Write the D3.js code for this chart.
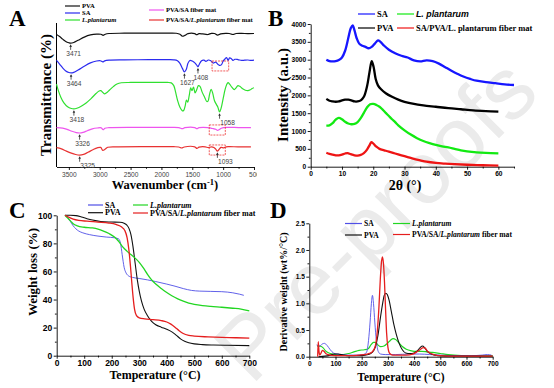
<!DOCTYPE html>
<html>
<head>
<meta charset="utf-8">
<script src="https://cdn.jsdelivr.net/npm/d3@7"></script>
<style>
  body { margin: 0; background: #fff; }
  svg { display: block; }
</style>
</head>
<body>
<svg id="fig" width="554" height="388"></svg>
<script>
// ---------- data ----------

// A: FTIR, [wavenumber cm-1, transmittance (offset, a.u.)]
var ftirTicks = [3500, 3000, 2500, 2000, 1500, 1000, 500];
var ftirNames = ["PVA", "SA", "L.plantarum", "PVA/SA fiber mat", "PVA/SA/L.plantarum fiber mat"];
var ftirPVA = [[3700,92.0],[3650,90.6],[3600,88.8],[3550,87.2],[3500,86.3],[3471,86.0],[3420,86.5],[3350,88.0],[3250,90.2],[3150,91.7],[3050,92.3],[2980,92.2],[2945,91.4],[2910,92.2],[2850,92.7],[2600,92.9],[2200,93.0],[1900,93.0],[1760,92.9],[1700,92.2],[1660,90.8],[1620,91.4],[1570,92.6],[1460,92.6],[1430,91.9],[1390,92.6],[1330,92.4],[1250,92.0],[1190,92.8],[1140,92.7],[1090,91.6],[1040,92.4],[960,92.8],[900,92.7],[840,92.0],[790,92.7],[700,92.8],[600,92.6],[500,92.7]];
var ftirSA = [[3700,74.0],[3650,71.5],[3600,68.8],[3550,66.7],[3500,65.6],[3464,65.3],[3420,65.7],[3350,67.3],[3250,70.0],[3150,72.3],[3050,73.6],[2990,73.8],[2950,73.0],[2920,73.7],[2850,74.2],[2600,74.4],[2200,74.5],[1900,74.5],[1800,74.4],[1740,73.8],[1700,72.0],[1660,68.5],[1627,66.0],[1600,67.5],[1570,72.0],[1540,74.0],[1500,73.6],[1450,72.0],[1420,70.2],[1408,69.6],[1390,71.0],[1350,73.8],[1310,74.2],[1280,73.4],[1240,74.3],[1200,73.8],[1160,72.2],[1120,72.8],[1090,71.5],[1060,70.6],[1030,70.9],[1000,73.5],[970,75.0],[945,76.0],[920,74.0],[895,75.8],[870,75.4],[840,74.0],[810,74.8],[760,74.6],[700,74.0],[650,74.2],[600,74.3],[550,74.0],[500,74.2]];
var ftirLP = [[3700,57.5],[3670,53.0],[3630,48.5],[3580,44.5],[3520,41.8],[3460,40.6],[3418,40.3],[3370,40.8],[3300,42.2],[3220,44.5],[3140,47.5],[3060,51.0],[3010,52.8],[2980,53.0],[2950,51.8],[2925,50.8],[2890,51.5],[2840,53.5],[2780,55.8],[2720,57.6],[2650,58.5],[2500,58.7],[2200,58.7],[1900,58.7],[1840,58.4],[1800,56.5],[1770,52.0],[1740,46.5],[1700,41.5],[1660,39.0],[1640,39.2],[1615,42.5],[1595,46.5],[1575,45.0],[1550,49.5],[1525,55.0],[1505,53.0],[1480,55.5],[1455,51.5],[1430,53.5],[1400,56.5],[1375,56.0],[1340,52.0],[1300,48.5],[1265,45.5],[1245,45.8],[1220,50.5],[1195,54.0],[1170,51.5],[1140,46.0],[1110,43.5],[1085,41.5],[1058,38.2],[1035,40.5],[1000,47.5],[970,53.5],[945,57.0],[920,58.6],[895,57.5],[860,55.5],[820,53.8],[790,55.0],[760,56.5],[730,56.0],[690,54.5],[640,53.3],[600,53.0],[560,53.6],[530,54.5],[500,55.0]];
var ftirFM = [[3700,27.3],[3600,27.0],[3520,26.0],[3450,24.8],[3380,23.9],[3326,23.6],[3270,24.0],[3200,25.2],[3120,26.5],[3040,27.1],[2975,27.2],[2945,25.9],[2915,26.9],[2850,27.3],[2400,27.5],[1900,27.5],[1720,27.4],[1660,26.6],[1620,27.3],[1460,27.4],[1425,26.6],[1390,27.3],[1250,27.4],[1200,27.0],[1160,26.6],[1120,26.2],[1090,25.4],[1060,26.1],[1030,26.9],[990,27.4],[900,27.5],[750,27.4],[550,27.4]];
var ftirFMLP = [[3700,13.4],[3620,12.6],[3540,11.0],[3460,9.6],[3390,8.7],[3325,8.3],[3260,8.8],[3190,10.2],[3110,12.0],[3040,13.3],[2985,13.6],[2950,11.6],[2915,12.3],[2870,13.7],[2700,14.0],[2200,14.1],[1800,14.1],[1720,13.9],[1670,13.2],[1630,13.9],[1460,14.0],[1425,12.9],[1390,13.8],[1290,14.0],[1240,13.5],[1190,14.0],[1150,13.6],[1120,12.4],[1093,11.0],[1070,12.0],[1035,13.6],[990,13.3],[950,14.0],[900,14.1],[760,14.0],[600,14.0],[550,14.0]];
var ftirPeaks = [[3471,86.0,"3471"],[3464,65.3,"3464"],[1627,66.0,"1627"],[1408,69.6,"1408"],[3418,40.3,"3418"],[1058,38.2,"1058"],[3326,23.6,"3326"],[3325,8.3,"3325"],[1093,11.0,"1093"]];
var ftirBoxes = [[1180,910,73.6,66.7],[1225,965,29.2,22.2],[1225,965,15.3,8.3]];

// B: XRD, [2theta, intensity]
var xrdTicksX = [0, 10, 20, 30, 40, 50, 60];
var xrdTicksY = [0, 500, 1000, 1500, 2000, 2500, 3000, 3500, 4000];
var xrdNames = ["SA", "L. plantarum", "PVA", "SA/PVA/L. plantarum fiber mat"];
var xrdSA = [[5,3000],[6,2960],[7,2950],[8,2960],[9,2990],[10,3060],[11,3250],[12,3600],[12.8,3880],[13.4,3960],[14,3820],[14.7,3600],[15.5,3450],[16.5,3390],[17.5,3360],[18.5,3320],[19.5,3360],[20.5,3450],[21.5,3540],[22.3,3500],[23.5,3390],[25,3280],[27,3180],[29,3110],[31,3060],[33,2980],[35,2950],[37,2980],[39,2960],[41,2890],[43,2790],[45,2690],[47,2600],[49,2520],[51,2460],[53,2410],[56,2370],[59,2340],[62,2310],[65,2290]];
var xrdPVA = [[5,1900],[6,1850],[7,1830],[8,1820],[9,1830],[10,1860],[11,1880],[12,1880],[13,1860],[14,1830],[15,1830],[16,1860],[17,1960],[18,2250],[18.8,2650],[19.5,2960],[20.1,2800],[20.8,2450],[21.5,2280],[22.5,2170],[24,2060],[26,1960],[28,1880],[30,1820],[33,1760],[36,1720],[40,1680],[44,1640],[48,1610],[52,1580],[56,1560],[60,1545]];
var xrdLP = [[5,1150],[6,1160],[7,1220],[8,1320],[9,1370],[10,1330],[11,1260],[12,1210],[13,1190],[14,1200],[15,1250],[16,1360],[17,1510],[18,1660],[19,1750],[20,1760],[21,1730],[22,1680],[23,1600],[24,1510],[25,1420],[26,1330],[27,1250],[28,1160],[30,1020],[32,900],[34,800],[36,720],[38,660],[40,610],[42,570],[44,540],[46,500],[48,460],[50,430],[53,400],[56,385],[60,375]];
var xrdFM = [[5,390],[6,360],[7,340],[8,320],[9,320],[10,340],[11,370],[11.8,380],[12.8,350],[14,320],[15,310],[16,330],[17,380],[18,480],[18.8,600],[19.4,690],[20,650],[21,560],[22,500],[23.5,460],[25,420],[27,370],[29,320],[31,270],[33,220],[35,180],[37,140],[40,105],[43,85],[46,70],[50,55],[55,40],[60,30]];

// C: TGA, [temperature C, weight %]
var tempTicks = [0, 100, 200, 300, 400, 500, 600, 700];
var tgaTicksY = [0, 20, 40, 60, 80, 100];
var thermNames = ["SA", "PVA", "L.plantarum", "PVA/SA/L.plantarum fiber mat"];
var tgaSA = [[30,100],[40,98.5],[50,95.5],[60,92.5],[70,90.3],[80,88.8],[95,87.5],[120,86.2],[150,85.2],[180,84.5],[210,84.0],[225,83.2],[232,80],[238,72],[245,63],[252,59],[260,57],[275,55.8],[300,55],[330,54],[360,52.8],[400,51],[430,49.5],[460,47.8],[490,46.5],[520,46],[560,45.8],[600,45.6],[640,44.8],[665,43.8],[680,43]];
var tgaPVA = [[30,100],[50,100],[70,99.8],[90,98.8],[110,97.6],[130,96.6],[160,95.6],[200,95.2],[230,95],[245,94.3],[255,93],[263,90.5],[270,86],[277,78],[285,66],[293,54],[300,46],[308,39],[318,33],[330,28.5],[345,24.5],[360,22],[380,20.3],[400,18.8],[420,16.8],[435,14.5],[450,12],[465,10.3],[480,9.2],[500,8.4],[530,7.9],[570,7.6],[620,7.4],[700,7.2]];
var tgaLP = [[30,100],[40,98],[50,96],[60,94],[75,92.5],[100,91.5],[130,91],[150,90.2],[170,88.8],[190,87],[210,84.5],[225,81.5],[240,77.5],[255,74.5],[270,72],[285,69.5],[300,66.5],[315,62.5],[330,58],[345,54],[360,51],[380,47.8],[400,45],[420,42.5],[440,40.5],[460,38.8],[480,37.5],[500,36.6],[530,35.7],[560,35.1],[600,34.5],[640,33.8],[670,33.2],[700,32]];
var tgaFM = [[30,100],[45,98.5],[60,97.3],[80,96.4],[110,95.8],[150,95.2],[190,94.5],[215,93.5],[235,91.8],[248,89],[256,84],[262,76],[268,64],[273,52],[278,41],[283,33],[290,28.5],[300,27],[320,26.3],[350,25.7],[380,25],[400,24],[415,22.5],[430,20.3],[445,17.8],[460,15.8],[480,14.5],[500,14],[550,13.4],[600,13],[650,12.8],[700,12.5]];

// D: DTG, [temperature C, derivative weight %/C]
var dtgTicksY = [0, 0.5, 1.0, 1.5, 2.0, 2.5];
var dtgSA = [[28,0.22],[40,0.2],[50,0.24],[58,0.25],[68,0.21],[80,0.13],[92,0.07],[105,0.05],[125,0.04],[150,0.03],[180,0.03],[205,0.04],[218,0.08],[226,0.3],[232,0.65],[237,1.0],[241,1.15],[245,1.0],[250,0.65],[256,0.3],[263,0.1],[272,0.05],[290,0.04],[330,0.04],[380,0.05],[420,0.05],[460,0.04],[500,0.03],[560,0.02],[620,0.02],[660,0.03],[680,0.04],[695,0.03]];
var dtgPVA = [[35,0.0],[60,0.01],[80,0.03],[95,0.05],[110,0.05],[130,0.03],[160,0.02],[200,0.02],[225,0.04],[240,0.08],[252,0.18],[262,0.4],[272,0.75],[280,1.0],[286,1.15],[292,1.19],[298,1.16],[305,1.05],[313,0.85],[322,0.62],[332,0.42],[343,0.25],[355,0.13],[368,0.07],[385,0.06],[400,0.07],[412,0.11],[423,0.17],[432,0.2],[440,0.17],[450,0.1],[465,0.05],[490,0.02],[550,0.01],[640,0.01],[700,0.01]];
var dtgLP = [[30,0.2],[42,0.2],[52,0.17],[62,0.11],[75,0.07],[90,0.05],[110,0.03],[130,0.04],[150,0.06],[170,0.09],[190,0.12],[210,0.13],[225,0.15],[235,0.22],[245,0.27],[253,0.27],[262,0.22],[272,0.19],[285,0.2],[298,0.25],[310,0.31],[320,0.34],[330,0.32],[342,0.26],[355,0.19],[370,0.14],[390,0.11],[410,0.1],[430,0.1],[450,0.09],[470,0.08],[500,0.06],[530,0.04],[580,0.02],[640,0.01],[700,0.01]];
var dtgFM = [[32,0.0],[34,0.28],[37,0.1],[40,0.03],[45,0.07],[50,0.12],[56,0.1],[65,0.05],[80,0.03],[110,0.02],[150,0.02],[190,0.03],[220,0.05],[240,0.09],[252,0.2],[260,0.5],[266,0.95],[271,1.45],[275,1.75],[279,1.87],[283,1.75],[287,1.4],[291,0.9],[295,0.45],[300,0.18],[307,0.06],[318,0.03],[340,0.03],[370,0.03],[395,0.05],[410,0.09],[425,0.14],[435,0.17],[442,0.16],[450,0.11],[460,0.07],[475,0.04],[500,0.02],[560,0.01],[620,0.01],[700,0.01]];

// ---------- drawing ----------
var SERIF = '"Liberation Serif", "Times New Roman", serif';
var SANS = '"Liberation Sans", Arial, sans-serif';

var svg = d3.select("#fig");
svg.append("rect").attr("width", 554).attr("height", 388).attr("fill", "#fff");

// watermark
svg.append("text")
  .attr("transform", "translate(378,222) rotate(-45)")
  .attr("text-anchor", "middle").attr("dy", "0.3em")
  .attr("font-family", SANS).attr("font-size", 88)
  .attr("fill", "#ebebeb")
  .text("Pre-proofs");

function mids(t) {
  var m = [];
  for (var i = 0; i < t.length - 1; i++) m.push((t[i] + t[i + 1]) / 2);
  return m;
}

function rich(t, s, italic) {
  var m = s.match(/^(.*?)(L\. ?plantarum)(.*)$/);
  if (!m || !italic) { t.text(s); return; }
  if (m[1]) t.append("tspan").text(m[1]);
  t.append("tspan").attr("font-style", "italic").text(m[2]);
  if (m[3]) t.append("tspan").text(m[3]);
}

// bottom + left axes with minor ticks
function axes(g, x, y, c) {
  var yb = y.range()[0], xl = x.range()[0];
  var ax = g.append("g").attr("transform", "translate(0," + yb + ")")
    .call(d3.axisBottom(x).tickValues(c.xt).tickFormat(c.xf || d3.format("d"))
      .tickSize(3).tickSizeOuter(0).tickPadding(c.pad || 1.5));
  g.append("g").attr("transform", "translate(0," + yb + ")")
    .call(d3.axisBottom(x).tickValues(c.xm).tickFormat("").tickSize(1.8).tickSizeOuter(0))
    .select(".domain").remove();
  ax.selectAll("text").attr("font-family", SANS).attr("font-size", c.fs)
    .attr("font-weight", c.bold ? "bold" : "normal").attr("fill", c.col || "#000");
  if (c.yt) {
    var ay = g.append("g").attr("transform", "translate(" + xl + ",0)")
      .call(d3.axisLeft(y).tickValues(c.yt).tickFormat(c.yf || d3.format("d"))
        .tickSize(3).tickSizeOuter(0).tickPadding(1.5));
    g.append("g").attr("transform", "translate(" + xl + ",0)")
      .call(d3.axisLeft(y).tickValues(c.ym).tickFormat("").tickSize(1.8).tickSizeOuter(0))
      .select(".domain").remove();
    ay.selectAll("text").attr("font-family", SANS).attr("font-size", c.fs)
      .attr("font-weight", "bold").attr("fill", "#000");
  } else {
    g.append("line").attr("x1", xl).attr("x2", xl)
      .attr("y1", y.range()[1]).attr("y2", yb).attr("stroke", "#000");
  }
  g.selectAll(".domain, .tick line").attr("stroke", "#000").attr("stroke-width", 0.9);
}

function legend(g, items, len, fs) {
  items.forEach(function (it) {
    g.append("line").attr("x1", it.x).attr("x2", it.x + len)
      .attr("y1", it.y).attr("y2", it.y)
      .attr("stroke", it.color).attr("stroke-width", 1.2);
    var t = g.append("text").attr("x", it.x + len + 2).attr("y", it.y).attr("dy", "0.33em")
      .attr("font-family", it.sans ? SANS : SERIF).attr("font-weight", "bold")
      .attr("font-size", it.fs || fs);
    if (it.allItalic) t.attr("font-style", "italic");
    rich(t, it.name, it.italic);
  });
}

function label(g, txt, x, y, fs, rot) {
  var t = g.append("text").attr("text-anchor", "middle")
    .attr("font-family", SERIF).attr("font-weight", "bold").attr("font-size", fs);
  if (rot) t.attr("transform", "translate(" + x + "," + y + ") rotate(-90)").attr("dy", "0.35em");
  else t.attr("x", x).attr("y", y);
  if (txt) t.text(txt);
  return t;
}

function letter(txt, x, y) {
  svg.append("text").attr("x", x).attr("y", y).attr("font-family", SERIF)
    .attr("font-weight", "bold").attr("font-size", 23).text(txt);
}

// ===== Panel A =====
svg.append("clipPath").attr("id", "clipA").append("rect")
  .attr("x", 0).attr("y", 0).attr("width", 257).attr("height", 200);
var gA = svg.append("g").attr("clip-path", "url(#clipA)");
var xA = d3.scaleLinear().domain([3700, 500]).range([56.5, 254]);
var yA = d3.scaleLinear().domain([0, 100]).range([167, 23]);
axes(gA, xA, yA, { xt: ftirTicks, xm: mids(ftirTicks), fs: 6.6, bold: false, col: "#444", pad: 2 });

var lineA = d3.line().x(function (d) { return xA(d[0]); }).y(function (d) { return yA(d[1]); })
  .curve(d3.curveCatmullRom.alpha(0.5));
var colA = ["#111", "#2b2bef", "#30e030", "#ee55ee", "#e83232"];
[ftirPVA, ftirSA, ftirLP, ftirFM, ftirFMLP].forEach(function (s, i) {
  gA.append("path").attr("d", lineA(s)).attr("fill", "none")
    .attr("stroke", colA[i]).attr("stroke-width", 1.2);
});

ftirBoxes.forEach(function (b) {
  gA.append("rect").attr("x", xA(b[0])).attr("y", yA(b[2]))
    .attr("width", xA(b[1]) - xA(b[0])).attr("height", yA(b[3]) - yA(b[2]))
    .attr("fill", "none").attr("stroke", "#e33").attr("stroke-width", 0.8)
    .attr("stroke-dasharray", "2,1");
});

ftirPeaks.forEach(function (p) {
  var px = xA(p[0]), py = yA(p[1]) + 1.2;
  gA.append("line").attr("x1", px).attr("x2", px).attr("y1", py + 1).attr("y2", py + 5.5)
    .attr("stroke", "#333").attr("stroke-width", 0.8);
  gA.append("path").attr("d", "M" + (px - 1.3) + "," + (py + 2.6) + "L" + px + "," + py + "L" + (px + 1.3) + "," + (py + 2.6) + "Z")
    .attr("fill", "#333");
  var right = p[2] === "1058" || p[2] === "1093" || p[2] === "3325";
  gA.append("text").attr("x", px + (right ? 8 : 3)).attr("y", py + 12)
    .attr("text-anchor", "middle").attr("font-family", SANS).attr("font-size", 6.6)
    .attr("fill", "#444").text(p[2]);
});

legend(gA, [
  { x: 65, y: 6, color: colA[0], name: ftirNames[0] },
  { x: 65, y: 13, color: colA[1], name: ftirNames[1] },
  { x: 65, y: 20, color: colA[2], name: ftirNames[2], allItalic: true },
  { x: 149, y: 10, color: colA[3], name: ftirNames[3] },
  { x: 149, y: 20, color: colA[4], name: ftirNames[4], italic: true }
], 15, 6.6);

label(gA, "Transmittance (%)", 46, 95, 15, true);
var tA = label(gA, "", 165, 189, 12.5, false);
tA.append("tspan").text("Wavenumber (cm");
tA.append("tspan").attr("dy", -4.5).attr("font-size", 8.5).text("-1");
tA.append("tspan").attr("dy", 4.5).text(")");
letter("A", 9, 26);

// ===== Panel B =====
var gB = svg.append("g");
var xB = d3.scaleLinear().domain([0, 65]).range([310.7, 514]);
var yB = d3.scaleLinear().domain([0, 4000]).range([166.7, 24]);
axes(gB, xB, yB, { xt: xrdTicksX, xm: mids(xrdTicksX.concat([70])), fs: 6.6, bold: true,
  yt: xrdTicksY, ym: mids(xrdTicksY) });

var lineB = d3.line().x(function (d) { return xB(d[0]); }).y(function (d) { return yB(d[1]); })
  .curve(d3.curveCatmullRom.alpha(0.5));
var colB = { SA: "#1616ff", PVA: "#000", LP: "#12ea12", FM: "#ee1414" };
[[xrdSA, colB.SA], [xrdPVA, colB.PVA], [xrdLP, colB.LP], [xrdFM, colB.FM]].forEach(function (s) {
  gB.append("path").attr("d", lineB(s[0])).attr("fill", "none")
    .attr("stroke", s[1]).attr("stroke-width", 2.3).attr("stroke-linejoin", "round");
});

legend(gB, [
  { x: 358, y: 14, color: colB.SA, name: xrdNames[0] },
  { x: 397, y: 14, color: colB.LP, name: xrdNames[1], sans: true, allItalic: true, fs: 8.8 },
  { x: 358, y: 28, color: colB.PVA, name: xrdNames[2] },
  { x: 397, y: 28, color: colB.FM, name: xrdNames[3] }
], 17, 8.5);

label(gB, "Intensity (a.u.)", 283, 95, 15, true);
label(gB, "2\u03b8 (\u00b0)", 405, 190, 14, false);
letter("B", 268, 26);

// ===== Panel C =====
var gC = svg.append("g");
var xC = d3.scaleLinear().domain([0, 700]).range([56.7, 249.3]);
var yC = d3.scaleLinear().domain([0, 100]).range([355.7, 215.3]);
axes(gC, xC, yC, { xt: tempTicks, xm: mids(tempTicks), fs: 8.5, bold: true,
  yt: tgaTicksY, ym: mids(tgaTicksY) });

var lineC = d3.line().x(function (d) { return xC(d[0]); }).y(function (d) { return yC(d[1]); })
  .curve(d3.curveMonotoneX);
var colT = { SA: "#4f4fe6", PVA: "#111", LP: "#22d622", FM: "#e51e1e" };
[[tgaSA, colT.SA, 0.9], [tgaPVA, colT.PVA, 1.1], [tgaLP, colT.LP, 1.3], [tgaFM, colT.FM, 1.3]].forEach(function (s) {
  gC.append("path").attr("d", lineC(s[0])).attr("fill", "none")
    .attr("stroke", s[1]).attr("stroke-width", s[2]);
});

legend(gC, [
  { x: 88, y: 205, color: colT.SA, name: thermNames[0] },
  { x: 88, y: 212.7, color: colT.PVA, name: thermNames[1] },
  { x: 133, y: 205, color: colT.LP, name: thermNames[2], allItalic: true },
  { x: 133, y: 213, color: colT.FM, name: thermNames[3], italic: true }
], 15, 8);

label(gC, "Weight loss (%)", 32, 272, 13, true);
label(gC, "Temperature (\u00b0C)", 155, 379, 12, false);
letter("C", 9, 218);

// ===== Panel D =====
var gD = svg.append("g");
var xD = d3.scaleLinear().domain([0, 700]).range([309.3, 492.7]);
var yD = d3.scaleLinear().domain([0, 2.5]).range([356.7, 223.3]);
axes(gD, xD, yD, { xt: tempTicks, xm: mids(tempTicks), fs: 6.6, bold: true,
  yt: dtgTicksY, ym: mids(dtgTicksY), yf: d3.format(".1f") });

var lineD = d3.line().x(function (d) { return xD(d[0]); }).y(function (d) { return yD(d[1]); })
  .curve(d3.curveMonotoneX);
[[dtgLP, colT.LP, 1.2], [dtgSA, colT.SA, 0.9], [dtgPVA, colT.PVA, 1.1], [dtgFM, colT.FM, 1.3]].forEach(function (s) {
  gD.append("path").attr("d", lineD(s[0])).attr("fill", "none")
    .attr("stroke", s[1]).attr("stroke-width", s[2]);
});

legend(gD, [
  { x: 345, y: 223.5, color: colT.SA, name: thermNames[0] },
  { x: 345, y: 235, color: colT.PVA, name: thermNames[1] },
  { x: 393, y: 223.5, color: colT.LP, name: thermNames[2], allItalic: true },
  { x: 393, y: 234.5, color: colT.FM, name: thermNames[3], italic: true }
], 17, 7.6);

label(gD, "Derivative weight (wt%/\u00b0C)", 283, 292, 10, true);
label(gD, "Temperature (\u00b0C)", 401, 381, 11.5, false);
letter("D", 270, 218);
</script>
</body>
</html>
